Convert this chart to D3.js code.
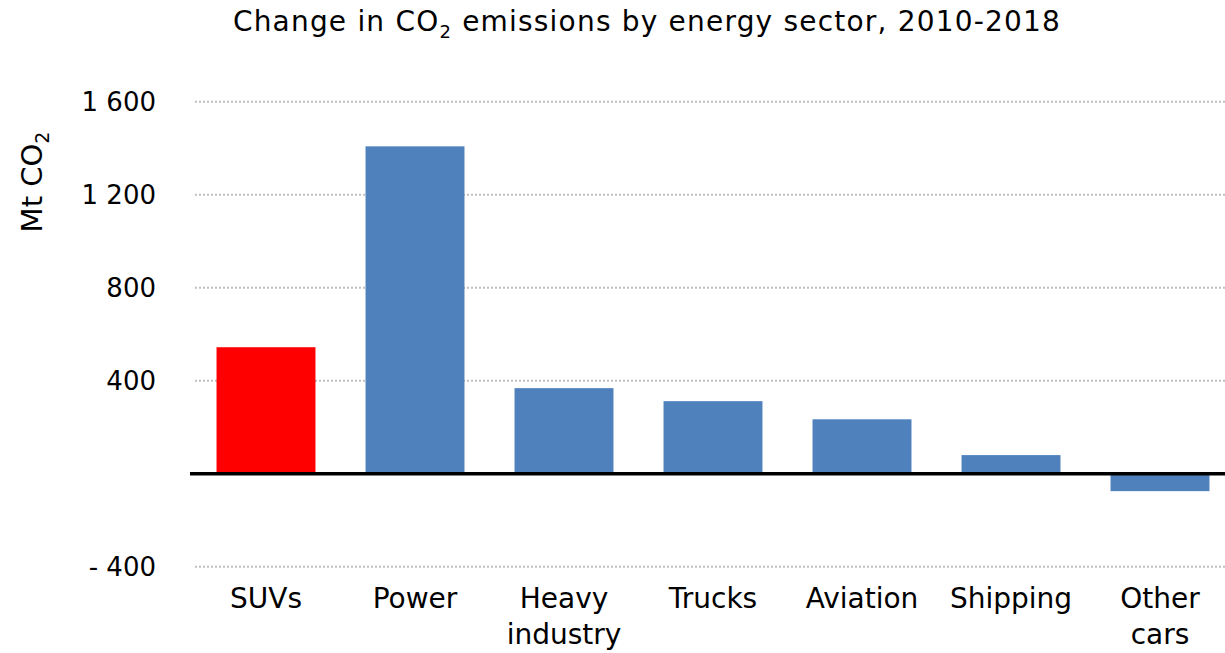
<!DOCTYPE html>
<html>
<head>
<meta charset="utf-8">
<script src="https://cdn.jsdelivr.net/npm/d3@7/dist/d3.min.js"></script>
<style>
  html, body { margin: 0; padding: 0; background: #fff; }
  svg text { font-family: "DejaVu Sans", sans-serif; fill: #000; }
</style>
</head>
<body>
<svg id="chart" width="1225" height="653"></svg>
<script>
// Sector names (multi-line labels split on "\n")
const categories = ["SUVs", "Power", "Heavy\nindustry", "Trucks", "Aviation", "Shipping", "Other\ncars"];
// Change in CO2 emissions 2010-2018, Mt CO2
const values = [544, 1408, 368, 312, 234, 80, -75];
// Bar fill per sector (SUVs highlighted)
const barColors = ["#FF0000", "#4F81BD", "#4F81BD", "#4F81BD", "#4F81BD", "#4F81BD", "#4F81BD"];
// Y axis tick values (zero is drawn as the baseline, not labelled)
const yTicks = [-400, 400, 800, 1200, 1600];

const svg = d3.select("#chart");

const x = d3.scaleBand()
  .domain(categories)
  .range([191.5, 1234.5])
  .paddingInner(0.336)
  .paddingOuter(0.168);

const y = d3.scaleLinear()
  .domain([-400, 1600])
  .range([566.7, 101.7]);

const locale = d3.formatLocale({ decimal: ".", thousands: " ", grouping: [3], currency: ["", ""] });
const fmt = locale.format(",d");
const tickLabel = d => d < 0 ? "- " + fmt(-d) : fmt(d);

// Title with subscript
const title = svg.append("text")
  .attr("x", 647)
  .attr("y", 31)
  .attr("text-anchor", "middle")
  .style("font-size", "28px")
  .style("letter-spacing", "1.2px");
title.append("tspan").text("Change in CO");
title.append("tspan").attr("dy", 7).style("font-size", "18px").text("2");
title.append("tspan").attr("dy", -7).text(" emissions by energy sector, 2010-2018");

// Dotted gridlines
svg.append("g")
  .selectAll("line")
  .data(yTicks)
  .join("line")
  .attr("x1", 195)
  .attr("x2", 1225)
  .attr("y1", d => y(d))
  .attr("y2", d => y(d))
  .attr("stroke", "#bfbfbf")
  .attr("stroke-width", 2)
  .attr("stroke-dasharray", "2,2");

// Y axis tick labels
const yAxis = d3.axisLeft(y)
  .tickValues(yTicks)
  .tickFormat(tickLabel)
  .tickSize(0)
  .tickPadding(0);
const yg = svg.append("g")
  .attr("transform", "translate(156,0)")
  .call(yAxis);
yg.select(".domain").remove();
yg.selectAll("text")
  .style("font-size", "26px")
  .style("font-family", "\"DejaVu Sans\", sans-serif")
  .attr("fill", "#000");

// Y axis title with subscript
const yTitle = svg.append("text")
  .attr("transform", "translate(42,182) rotate(-90)")
  .attr("text-anchor", "middle")
  .style("font-size", "29px");
yTitle.append("tspan").text("Mt CO");
yTitle.append("tspan").attr("dy", 7).style("font-size", "19px").text("2");

// Bars
svg.append("g")
  .selectAll("rect")
  .data(categories)
  .join("rect")
  .attr("x", d => x(d))
  .attr("width", x.bandwidth())
  .attr("y", (d, i) => y(Math.max(0, values[i])))
  .attr("height", (d, i) => Math.abs(y(values[i]) - y(0)))
  .attr("fill", (d, i) => barColors[i]);

// Zero baseline
svg.append("line")
  .attr("x1", 190)
  .attr("x2", 1225)
  .attr("y1", y(0))
  .attr("y2", y(0))
  .attr("stroke", "#000")
  .attr("stroke-width", 3.5);

// Category labels
const labels = svg.append("g")
  .selectAll("text")
  .data(categories)
  .join("text")
  .attr("text-anchor", "middle")
  .attr("x", d => x(d) + x.bandwidth() / 2)
  .attr("y", 608)
  .style("font-size", "28px");
labels.selectAll("tspan")
  .data(d => d.split("\n").map(t => ({ t, parent: d })))
  .join("tspan")
  .attr("x", d => x(d.parent) + x.bandwidth() / 2)
  .attr("dy", (d, i) => i === 0 ? 0 : 36)
  .text(d => d.t);
</script>
</body>
</html>
